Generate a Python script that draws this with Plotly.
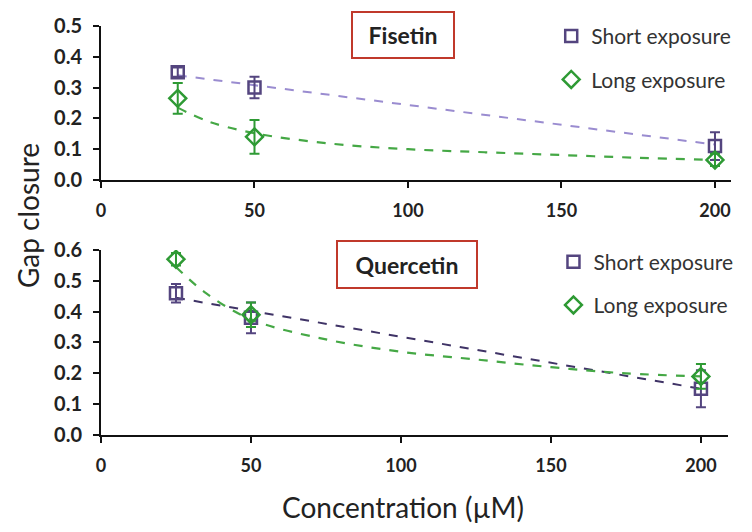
import plotly.graph_objects as go

# concentrations (uM)
conc = [25, 50, 200]

# Fisetin
fis_short = [0.35, 0.30, 0.11]
fis_short_err = [0.015, 0.035, 0.045]
fis_long = [0.265, 0.14, 0.065]
fis_long_err = [0.05, 0.055, 0.02]

# Quercetin
que_short = [0.46, 0.38, 0.15]
que_short_err = [0.03, 0.05, 0.06]
que_long = [0.57, 0.39, 0.19]
que_long_err = [0.02, 0.04, 0.04]

# trend lines
trend_short_x = [25, 200]
fis_short_trend = [0.34, 0.115]
que_short_trend = [0.445, 0.15]
trend_long_x = [25, 35, 50, 75, 100, 125, 150, 175, 200]
fis_long_trend = [0.235, 0.19, 0.152, 0.118, 0.10, 0.09, 0.081, 0.072, 0.065]
que_long_trend = [0.545, 0.46, 0.375, 0.31, 0.27, 0.245, 0.22, 0.20, 0.19]

x_ticks = [0, 50, 100, 150, 200]

PURPLE = "#54457f"
PURPLE_LIGHT = "#9a8cd0"
PURPLE_DARK = "#3f3366"
GREEN = "#2e9a34"
GREEN_LIGHT = "#45a845"
FONT = "Lato, 'Open Sans', sans-serif"

fig = go.Figure()


def add_panel(xa, ya, short, short_err, long_, long_err, s_trend, l_trend, s_line, legend):
    fig.add_trace(go.Scatter(x=trend_short_x, y=s_trend, mode="lines", xaxis=xa, yaxis=ya,
                             line=dict(color=s_line, width=2, dash="dash"), showlegend=False,
                             hoverinfo="skip"))
    fig.add_trace(go.Scatter(x=trend_long_x, y=l_trend, mode="lines", xaxis=xa, yaxis=ya,
                             line=dict(color=GREEN_LIGHT, width=2.2, dash="dash", shape="spline"),
                             showlegend=False, hoverinfo="skip"))
    fig.add_trace(go.Scatter(x=conc, y=short, mode="markers", xaxis=xa, yaxis=ya,
                             name="Short exposure", legend=legend, legendgroup=legend + "s",
                             marker=dict(symbol="square-open", size=12, color=PURPLE,
                                         line=dict(width=2.5, color=PURPLE)),
                             error_y=dict(type="data", array=short_err, color=PURPLE,
                                          thickness=2, width=5)))
    fig.add_trace(go.Scatter(x=conc, y=long_, mode="markers", xaxis=xa, yaxis=ya,
                             name="Long exposure", legend=legend, legendgroup=legend + "l",
                             marker=dict(symbol="diamond-open", size=13, color=GREEN,
                                         line=dict(width=2.5, color=GREEN)),
                             error_y=dict(type="data", array=long_err, color=GREEN,
                                          thickness=2, width=5)))


add_panel("x", "y", fis_short, fis_short_err, fis_long, fis_long_err,
          fis_short_trend, fis_long_trend, PURPLE_LIGHT, "legend")
add_panel("x2", "y2", que_short, que_short_err, que_long, que_long_err,
          que_short_trend, que_long_trend, PURPLE_DARK, "legend2")

xcommon = dict(tickvals=x_ticks, ticks="outside", ticklen=6, tickwidth=2, tickcolor="#111",
               ticklabelstandoff=7,
               showline=True, linecolor="#111", linewidth=2, showgrid=False, zeroline=False,
               tickfont=dict(family=FONT, size=18, color="#222", weight="bold"))
ycommon = dict(dtick=0.1, tickformat=".1f", ticks="outside", ticklen=6, tickwidth=2,
               tickcolor="#111", ticklabelstandoff=7,
               showline=True, linecolor="#111", linewidth=2,
               showgrid=False, zeroline=False,
               tickfont=dict(family=FONT, size=20, color="#222", weight="bold"))

legend_style = dict(font=dict(family=FONT, size=21, color="#333"), bgcolor="rgba(0,0,0,0)",
                    tracegroupgap=13, itemwidth=30, xanchor="left", yanchor="top")

fig.update_layout(
    width=752, height=532,
    margin=dict(l=0, r=0, t=0, b=0, autoexpand=False),
    paper_bgcolor="white", plot_bgcolor="white",
    font=dict(family=FONT),
    xaxis=dict(domain=[0.1343, 0.972], range=[0, 205.2], anchor="y", **xcommon),
    yaxis=dict(domain=[0.6617, 0.9511], range=[0, 0.5], anchor="x", **ycommon),
    xaxis2=dict(domain=[0.1343, 0.968], range=[0, 209], anchor="y2", **xcommon),
    yaxis2=dict(domain=[0.1823, 0.5301], range=[0, 0.6], anchor="x2", **ycommon),
    legend=dict(x=0.733, y=0.97, **legend_style),
    legend2=dict(x=0.736, y=0.546, **legend_style),
    annotations=[
        dict(text="<b>Fisetin</b>", x=0.536, y=0.934, xref="paper", yref="paper",
             xanchor="center", yanchor="middle",
             showarrow=False, font=dict(family=FONT, size=23, color="#222"),
             bordercolor="#c0392b", borderwidth=2, width=98, height=42, bgcolor="white"),
        dict(text="<b>Quercetin</b>", x=0.541, y=0.502, xref="paper", yref="paper",
             xanchor="center", yanchor="middle",
             showarrow=False, font=dict(family=FONT, size=23, color="#222"),
             bordercolor="#c0392b", borderwidth=2, width=136, height=43, bgcolor="white"),
        dict(text="Gap closure", x=0.038, y=0.595, xref="paper", yref="paper",
             xanchor="center", yanchor="middle",
             showarrow=False, textangle=-90, font=dict(family=FONT, size=28, color="#222")),
        dict(text="Concentration (µM)", x=0.536, y=0.047, xref="paper", yref="paper",
             xanchor="center", yanchor="middle",
             showarrow=False, font=dict(family=FONT, size=28, color="#222")),
    ],
)

fig.write_html("out.html", config={"displayModeBar": False},
               post_script="document.body.style.margin='0';")
